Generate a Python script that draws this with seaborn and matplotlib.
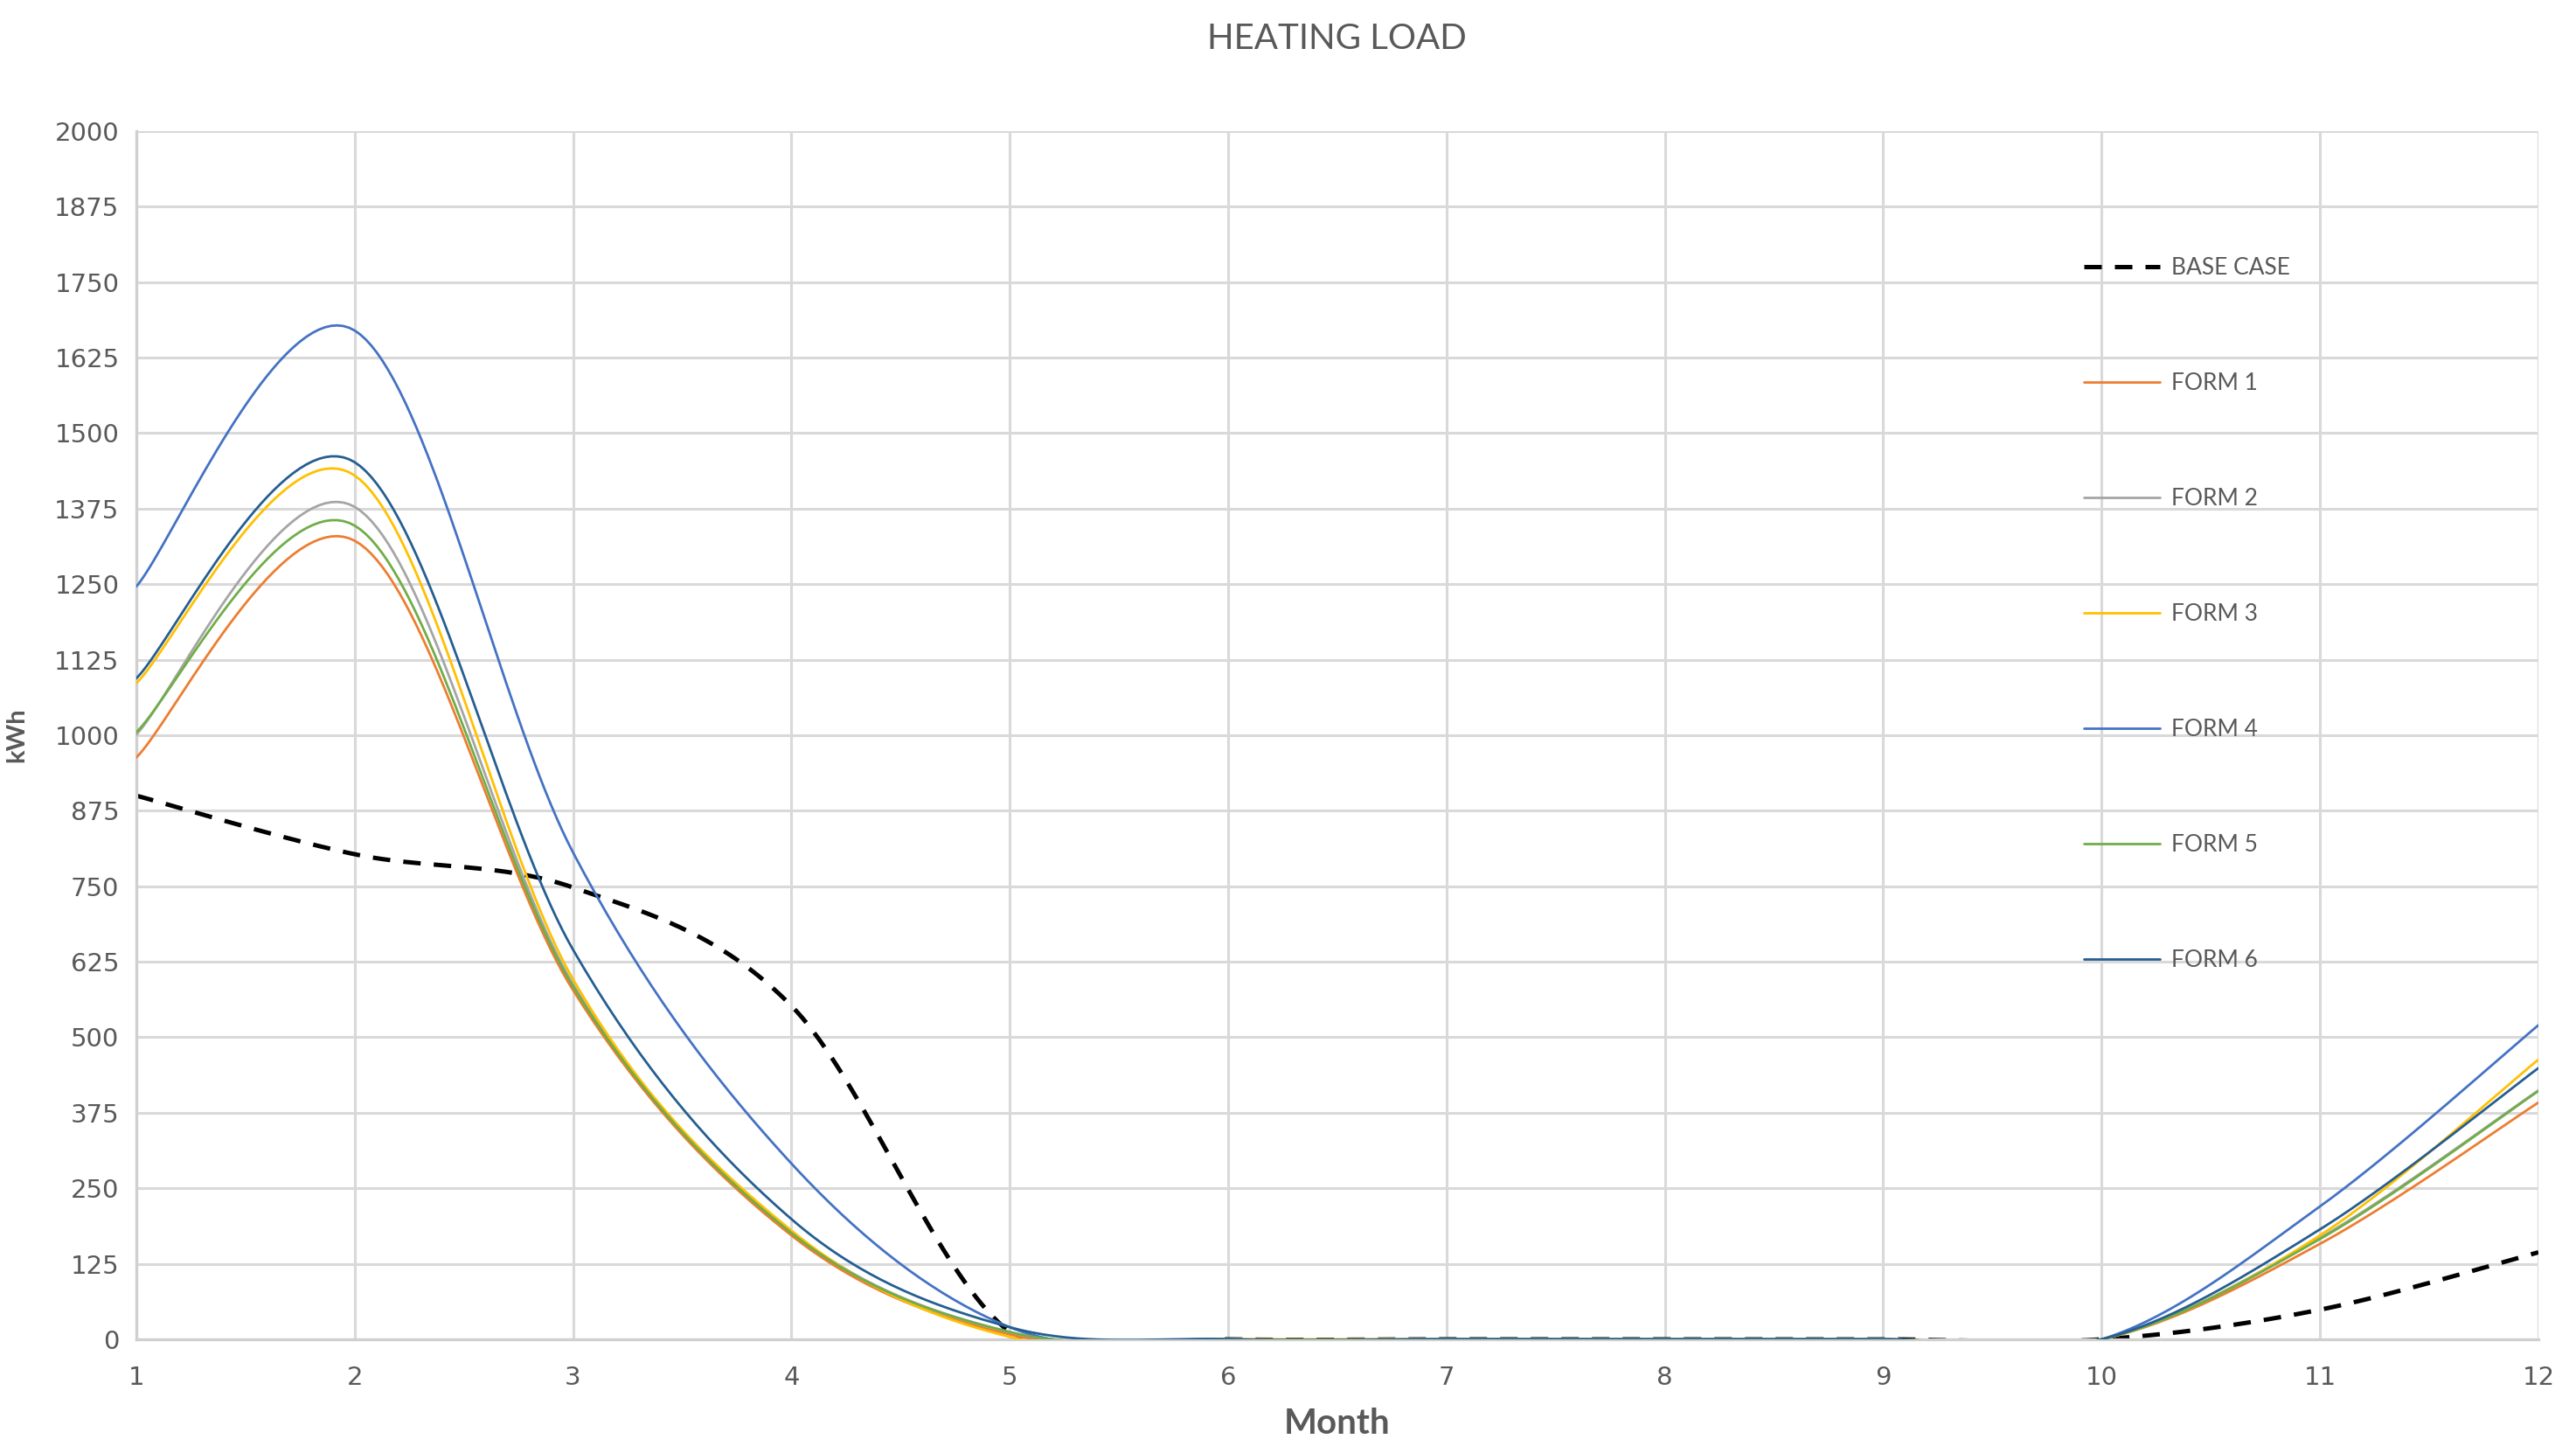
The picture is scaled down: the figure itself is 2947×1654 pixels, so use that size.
import numpy as np
import pandas as pd
import matplotlib
matplotlib.use('Agg')
import matplotlib.pyplot as plt
import seaborn as sns

# Monthly heating load (kWh)
months = [1, 2, 3, 4, 5, 6, 7, 8, 9, 10, 11, 12]
base_case = [900, 803, 748, 552, 12, 0, 0, 0, 0, 0, 49, 144]
form_1 = [963, 1322, 578, 172, 8, 0, 0, 0, 0, 0, 158, 392]
form_2 = [1001, 1378, 588, 178, 12, 0, 0, 0, 0, 0, 168, 412]
form_3 = [1086, 1430, 596, 180, 4, 0, 0, 0, 0, 0, 172, 463]
form_4 = [1246, 1670, 806, 291, 20, 0, 0, 0, 0, 0, 220, 520]
form_5 = [1005, 1347, 584, 176, 12, 0, 0, 0, 0, 0, 166, 411]
form_6 = [1094, 1452, 645, 199, 20, 0, 0, 0, 0, 0, 182, 449]

series_names = ['BASE CASE', 'FORM 1', 'FORM 2', 'FORM 3', 'FORM 4', 'FORM 5', 'FORM 6']
series_values = [base_case, form_1, form_2, form_3, form_4, form_5, form_6]
colors = ['#000000', '#ED7D31', '#A5A5A5', '#FFC000', '#4472C4', '#70AD47', '#255E91']
y_ticks = list(range(0, 2001, 125))


def smooth(x, y, n=40):
    # Excel-style smoothed line: cubic Bezier through the points (Catmull-Rom tangents)
    x = np.asarray(x, float)
    y = np.asarray(y, float)
    px = np.concatenate([[x[0]], x, [x[-1]]])
    py = np.concatenate([[y[0]], y, [y[-1]]])
    xs, ys = [], []
    t = np.linspace(0, 1, n)
    for i in range(1, len(px) - 2):
        p0 = np.array([px[i], py[i]])
        p3 = np.array([px[i + 1], py[i + 1]])
        c1 = p0 + (np.array([px[i + 1], py[i + 1]]) - np.array([px[i - 1], py[i - 1]])) / 6
        c2 = p3 - (np.array([px[i + 2], py[i + 2]]) - np.array([px[i], py[i]])) / 6
        b = ((1 - t) ** 3)[:, None] * p0 + (3 * (1 - t) ** 2 * t)[:, None] * c1 \
            + (3 * (1 - t) * t ** 2)[:, None] * c2 + (t ** 3)[:, None] * p3
        xs.extend(b[:, 0])
        ys.extend(b[:, 1])
    return np.array(xs), np.array(ys)


sns.set_theme(style='white')
plt.rcParams['font.family'] = ['Lato', 'DejaVu Sans']

fig = plt.figure(figsize=(29.47, 16.54), dpi=100)
ax = fig.add_axes([0.0529, 0.0738, 0.9325, 0.8355])

for name, vals, col in zip(series_names, series_values, colors):
    sx, sy = smooth(months, vals)
    df = pd.DataFrame({'Month': sx, 'kWh': sy})
    if name == 'BASE CASE':
        sns.lineplot(data=df, x='Month', y='kWh', ax=ax, color=col, lw=3.6,
                     linestyle=(0, (4, 3)), label=name, sort=False, estimator=None,
                     zorder=2)
    else:
        sns.lineplot(data=df, x='Month', y='kWh', ax=ax, color=col, lw=2.0,
                     label=name, sort=False, estimator=None, zorder=3)

ax.set_xlim(1, 12)
ax.set_ylim(0, 2000)
ax.set_xticks(months)
ax.set_yticks(y_ticks)
ax.grid(True, color='#D9D9D9', lw=2.2)
ax.tick_params(length=0, labelsize=21, colors='#595959')
ax.tick_params(axis='x', pad=22)
ax.tick_params(axis='y', pad=14)
for lab in ax.get_xticklabels() + ax.get_yticklabels():
    lab.set_family(['Liberation Sans Narrow', 'DejaVu Sans'])
for s in ['top', 'right']:
    ax.spines[s].set_visible(False)
for s in ['left', 'bottom']:
    ax.spines[s].set_color('#D0D0D0')
    ax.spines[s].set_linewidth(2.4)

ax.set_xlabel('Month', fontsize=29, fontweight='bold', color='#595959', labelpad=14)
ax.set_ylabel('kWh', fontsize=21, fontweight='bold', color='#595959')
ax.yaxis.set_label_coords(-0.045, 0.5)
fig.suptitle('HEATING LOAD', fontsize=29, color='#595959', y=0.984, x=0.519)

leg = ax.legend(loc='upper left', bbox_to_anchor=(0.806, 0.905), frameon=False,
                fontsize=19, labelspacing=4.05, handlelength=3.3, handletextpad=0.5,
                borderpad=0)
for t in leg.get_texts():
    t.set_color('#595959')

fig.savefig('out.png', dpi=100)
